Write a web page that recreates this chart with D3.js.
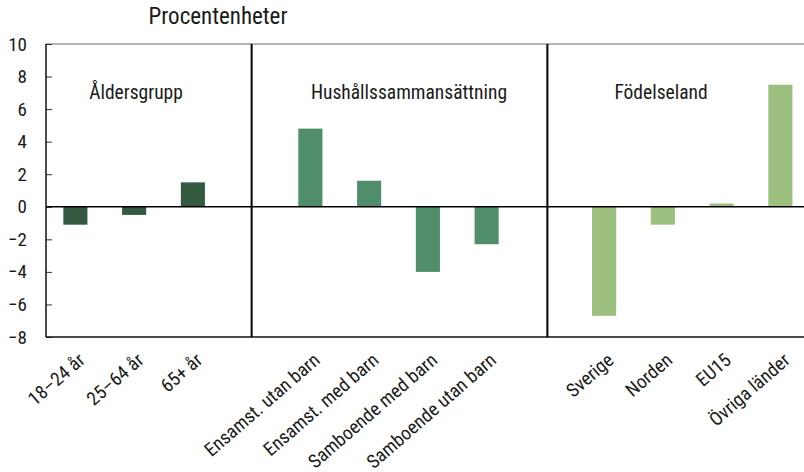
<!DOCTYPE html>
<html><head><meta charset="utf-8">
<script src="https://cdn.jsdelivr.net/npm/d3@7"></script>
<style>body{margin:0;background:#fff}svg{display:block}text{font-family:"Liberation Sans Narrow","Roboto Condensed","Arial Narrow",sans-serif;fill:#1a1a1a}</style>
</head><body><svg id="c" width="804" height="472"></svg>
<script>
const categories = ["18–24 år","25–64 år","65+ år","gap1","Ensamst. utan barn","Ensamst. med barn","Samboende med barn","Samboende utan barn","gap2","Sverige","Norden","EU15","Övriga länder"];
const values = [-1.1,-0.5,1.5,null,4.8,1.6,-4.0,-2.3,null,-6.7,-1.1,0.2,7.5];
const groupIdx = [0,0,0,null,1,1,1,1,null,2,2,2,2];
const groupNames = ["Åldersgrupp","Hushållssammansättning","Födelseland"];
const groupColors = ["#335a40","#4f8d6b","#9bbf7f"];
const yTicks = [10,8,6,4,2,0,-2,-4,-6,-8];

(function(){
const svg = d3.select("#c");
const mLeft = 46, mTop = 44, mBottom = 337;
const x = d3.scaleBand().domain(categories).range([mLeft, mLeft + 13*58.75]).paddingInner(0.59).paddingOuter(0.295);
const y = d3.scaleLinear().domain([-8,10]).range([mBottom, mTop]);

svg.append("text").attr("x",218).attr("y",24).attr("text-anchor","middle").style("font-size","23px").text("Procentenheter");

svg.append("line").attr("x1",mLeft).attr("x2",804).attr("y1",y(10)).attr("y2",y(10)).attr("stroke","#666").attr("stroke-width",1.2);

const ya = svg.append("g").attr("transform",`translate(${mLeft},0)`)
  .call(d3.axisLeft(y).tickValues(yTicks).tickSize(-6).tickPadding(19).tickFormat(d3.format("d")));
ya.select(".domain").remove();
ya.selectAll(".tick line").attr("stroke","#333");
ya.selectAll(".tick text").style("font-size","19px").attr("fill","#1a1a1a");
svg.append("line").attr("x1",mLeft).attr("x2",mLeft).attr("y1",y(10)).attr("y2",y(-8)).attr("stroke","#111").attr("stroke-width",1.5);

svg.append("line").attr("x1",mLeft).attr("x2",804).attr("y1",y(-8)).attr("y2",y(-8)).attr("stroke","#111").attr("stroke-width",1.5);

["gap1","gap2"].forEach(g=>{
  const cx = x(g) + x.bandwidth()/2 + (g==="gap2"?2:0);
  svg.append("line").attr("x1",cx).attr("x2",cx).attr("y1",y(10)).attr("y2",y(-8)).attr("stroke","#000").attr("stroke-width",2);
});

const data = categories.map((c,i)=>({c, v:values[i], g:groupIdx[i]})).filter(d=>d.v!==null);
svg.append("g").selectAll("rect").data(data).join("rect")
  .attr("x",d=>x(d.c)).attr("width",x.bandwidth())
  .attr("y",d=>y(Math.max(0,d.v))).attr("height",d=>Math.abs(y(d.v)-y(0)))
  .attr("fill",d=>groupColors[d.g]);

svg.append("line").attr("x1",mLeft).attr("x2",804).attr("y1",y(0)).attr("y2",y(0)).attr("stroke","#000").attr("stroke-width",1.5);

const gx = [136, 409, 661];
groupNames.forEach((n,i)=>{
  svg.append("text").attr("x",gx[i]).attr("y",99).attr("text-anchor","middle").style("font-size","19.5px").text(n);
});

svg.append("g").selectAll("text").data(data).join("text")
  .attr("text-anchor","end")
  .attr("transform",d=>`translate(${x(d.c)+x.bandwidth()/2+2},${mBottom+15}) rotate(-41)`)
  .attr("dy","0.7em")
  .style("font-size","19px").text(d=>d.c);
})();
</script></body></html>
